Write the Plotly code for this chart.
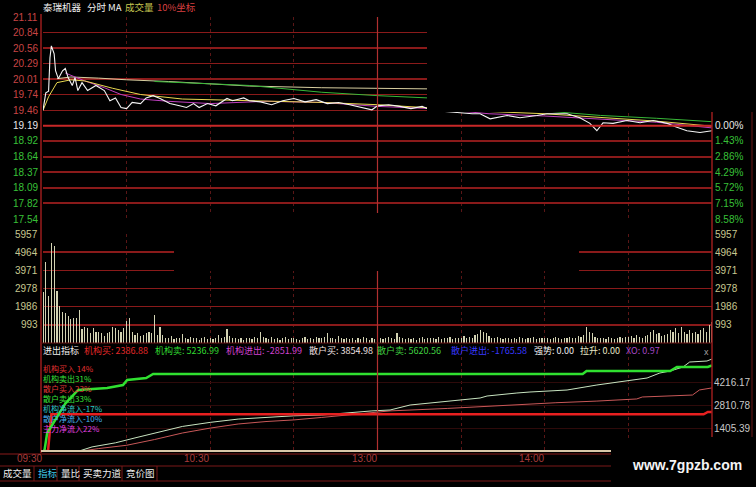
import plotly.graph_objects as go

W, H = 756, 487
CJK = "Noto Sans CJK SC, Noto Sans, sans-serif"
NUM = "Liberation Sans, Arial, sans-serif"

# ---------------- data ----------------
price_ticks = [21.11, 20.84, 20.56, 20.29, 20.01, 19.74, 19.46, 19.19,
               18.92, 18.64, 18.37, 18.09, 17.82, 17.54]
pct_ticks = ["0.00%", "1.43%", "2.86%", "4.29%", "5.72%", "7.15%", "8.58%"]
vol_ticks = [5957, 4964, 3971, 2978, 1986, 993]
ind_ticks = [4216.17, 2810.78, 1405.39]
time_ticks = [0, 60, 120, 180]
time_labels = ["09:30", "10:30", "13:00", "14:00"]

price_t = [0, 1, 2, 2.5, 3, 4, 4.5, 5.5, 7, 8, 9, 10.5, 11.5, 12.5, 14, 16, 19, 22, 24, 26,
           28, 30, 32, 35, 37, 39.5, 42, 45.5, 49, 51.5, 54, 56, 59, 62, 66, 68, 72, 74, 78, 82,
           86, 90, 94, 98, 102, 106, 110, 114, 118, 120, 124, 128, 132, 136, 138, 142, 146, 150,
           154, 156.8, 160.4, 166.5, 171.1, 177.2, 180.8, 188, 192.6, 196.2, 198.7, 200.9, 204.5,
           209.5, 214.2, 218.9, 223.9, 227.4, 231, 235.7, 240]
price = [19.46, 19.77, 19.80, 20.39, 20.60, 20.46, 20.16, 20.02, 20.16, 20.20, 20.04, 19.90,
         20.04, 19.81, 19.95, 19.81, 19.90, 19.81, 19.63, 19.68, 19.51, 19.49, 19.60, 19.58,
         19.68, 19.72, 19.67, 19.58, 19.54, 19.51, 19.58, 19.51, 19.58, 19.54, 19.67, 19.63,
         19.68, 19.63, 19.61, 19.56, 19.63, 19.67, 19.61, 19.65, 19.58, 19.60, 19.56, 19.51,
         19.47, 19.54, 19.56, 19.53, 19.49, 19.53, 19.49, 19.45, 19.43, 19.42, 19.40, 19.40,
         19.31, 19.37, 19.33, 19.37, 19.40, 19.40, 19.33, 19.23, 19.10, 19.24, 19.23, 19.28,
         19.24, 19.28, 19.23, 19.16, 19.10, 19.07, 19.10]

avg_t = [0, 2, 5, 10, 15, 25, 35, 50, 75, 100, 120, 140, 160, 180, 200, 220, 240]
avg_price = [19.46, 19.70, 19.95, 20.00, 19.98, 19.85, 19.74, 19.66, 19.63, 19.60, 19.56,
             19.50, 19.44, 19.40, 19.33, 19.27, 19.18]

ma_mag_t = [8, 15, 22, 28, 35, 45, 60, 80, 100, 120, 140, 160, 180, 200, 220, 240]
ma_mag = [20.12, 19.98, 19.86, 19.74, 19.66, 19.62, 19.58, 19.62, 19.60, 19.53, 19.49,
          19.40, 19.36, 19.30, 19.25, 19.15]
ma_grn_t = [40, 60, 74, 100, 120, 138, 160, 180, 200, 220, 240]
ma_grn = [19.97, 19.93, 19.90, 19.78, 19.72, 19.68, 19.55, 19.45, 19.37, 19.32, 19.26]
ma_beige_t = [5, 10, 20, 30, 45, 60, 74, 100, 138, 170, 200, 240]
ma_beige = [20.02, 20.05, 20.03, 20.00, 19.97, 19.93, 19.89, 19.86, 19.84, 19.80, 19.77, 19.74]

volume = [2785, 4420, 2570, 5460, 5300, 2840, 2020, 1690, 1640, 1470,
          1310, 1360, 1360, 1800, 760, 870, 820, 550, 820, 600,
          600, 550, 380, 550, 600, 870, 820, 710, 600, 820,
          1200, 1360, 600, 440, 550, 380, 440, 550, 600, 550,
          1530, 440, 870, 440, 300, 250, 380, 220, 300, 260,
          490, 280, 200, 330, 250, 300, 180, 260, 320, 240,
          280, 210, 300, 440, 260, 330, 760, 380, 250, 300,
          220, 280, 190, 260, 300, 240, 330, 280, 600, 350,
          260, 200, 310, 240, 280, 180, 250, 330, 220, 270,
          300, 240, 190, 280, 350, 220, 260, 200, 310, 250,
          280, 330, 550, 260, 300, 220, 380, 250, 200, 280,
          240, 300, 190, 260, 220, 330, 250, 180, 270, 230,
          270, 300, 220, 260, 330, 280, 240, 550, 320, 260,
          200, 280, 240, 300, 190, 260, 330, 220, 280, 250,
          300, 240, 350, 210, 280, 250, 320, 230, 290, 260,
          300, 380, 260, 330, 280, 420, 500, 710, 600, 550,
          380, 300, 250, 330, 280, 220, 300, 260, 200, 280,
          240, 310, 260, 200, 290, 250, 330, 220, 270, 300,
          250, 300, 220, 280, 330, 260, 240, 300, 280, 350,
          300, 260, 380, 330, 420, 870, 600, 550, 330, 280,
          260, 300, 240, 330, 280, 220, 300, 350, 260, 310,
          330, 380, 300, 420, 350, 300, 400, 450, 600, 710,
          480, 550, 380, 450, 500, 710, 600, 820, 520, 870,
          600, 480, 710, 550, 600, 500, 710, 820, 600, 980, 1150]
minutes = list(range(len(volume)))

jg_buy_t = [0, 1.8, 3.0, 237.0, 238.5, 240]
jg_buy = [0, 0, 2240, 2240, 2387, 2387]
jg_sell_t = [0, 0.5, 1.5, 4, 8, 12.6, 23, 28.7, 30.2, 37, 39.5, 193.6, 195, 225, 227.4, 238.5, 240]
jg_sell = [0, 0, 1100, 1800, 2900, 3727, 3850, 4030, 4338, 4460, 4705, 4705, 4888, 4888,
           5132, 5132, 5237]
sh_buy_t = [0, 14, 20, 30, 40, 50, 60, 70, 80, 90, 100, 110, 120, 124.5, 145, 161, 184,
            198.7, 213, 215, 233, 235.5, 240]
sh_buy = [0, 0, 150, 350, 700, 1100, 1400, 1650, 1800, 1900, 2050, 2200, 2350, 2450, 2600,
          2750, 2950, 3050, 3180, 3300, 3420, 3730, 3855]
sh_sell_t = [0, 13, 17.6, 26, 33, 40, 50, 60, 70, 80, 90, 100, 110, 118, 124.5, 131.7, 156.8,
             159.3, 170, 174.7, 188, 198.7, 216.7, 221.3, 225, 229.6, 232, 238.2, 240]
sh_sell = [0, 0, 250, 500, 800, 1100, 1500, 1750, 1950, 2050, 2150, 2200, 2350, 2450, 2505,
           2810, 3238, 3360, 3544, 3605, 3727, 4033, 4460, 4766, 4888, 5132, 5438, 5499, 5621]

header_items = [("进出指标", 42, "#f0f0f0"), ("机构买: 2386.88", 83, "#e02828"),
                ("机构卖: 5236.99", 154, "#30d830"), ("机构进出: -2851.99", 225, "#d040d0"),
                ("散户买: 3854.98", 308, "#f0e0e0"), ("散户卖: 5620.56", 376, "#40d040"),
                ("散户进出: -1765.58", 450, "#3838ff"), ("强势: 0.00", 533, "#f0f0f0"),
                ("拉升: 0.00", 579, "#e8e8c8"), ("XO: 0.97", 625, "#a848c8")]
legend_items = [("机构买入 14%", "#e03030"), ("机构卖出31%", "#38e038"),
                ("散户买入23%", "#e03838"), ("散户卖出33%", "#38e038"),
                ("机构净流入-17%", "#30c8c8"), ("散户净流入-10%", "#48b0f0"),
                ("主力净流入22%", "#e040e0")]
title_items = [("泰瑞机器", 42, "#f0f0f0"), ("分时", 86, "#f0f0f0"), ("MA", 107, "#f0f0f0"),
               ("成交量", 124, "#c8c850"), ("10%坐标", 156, "#d84040")]
tab_items = [("成交量", 2, "#f0f0f0"), ("指标", 37, "#40c8e8"), ("量比", 60, "#f0f0f0"),
             ("买卖力道", 82, "#f0f0f0"), ("竞价图", 125, "#f0f0f0")]

# ---------------- figure ----------------
fig = go.Figure()
def line(x, y, color, width, axis):
    fig.add_trace(go.Scatter(x=x, y=y, mode="lines", yaxis=axis,
                             line=dict(color=color, width=width), hoverinfo="skip"))

line(ma_beige_t, ma_beige, "#d8cfa0", 1, "y")
line(ma_grn_t, ma_grn, "#38b838", 1, "y")
line(ma_mag_t, ma_mag, "#c040c0", 1, "y")
line(avg_t, avg_price, "#e8d850", 1, "y")
line(price_t, price, "#f4f4f4", 1.1, "y")

fig.add_trace(go.Bar(x=minutes, y=volume, width=0.42, yaxis="y2",
                     marker=dict(color="#d2d2b2", line=dict(width=0)), hoverinfo="skip"))

line(sh_buy_t, sh_buy, "#c85858", 1, "y3")
line(sh_sell_t, sh_sell, "#c8e4c0", 1, "y3")
line(jg_buy_t, jg_buy, "#e82020", 2.5, "y3")
line(jg_sell_t, jg_sell, "#30e030", 2.5, "y3")

def dom(top_px, bot_px):
    return [1 - bot_px / H, 1 - top_px / H]

grid_common = dict(showticklabels=False, zeroline=False, showline=False, ticks="")
fig.update_layout(
    width=W, height=H, margin=dict(l=0, r=0, t=0, b=0),
    paper_bgcolor="#000000", plot_bgcolor="#000000", showlegend=False, bargap=0,
    xaxis=dict(domain=[43 / W, 712 / W], range=[0, 240], tickvals=list(range(0, 241, 30)),
               showgrid=True, gridcolor="#5a1616", griddash="dot", gridwidth=1,
               anchor="y3", **grid_common),
    yaxis=dict(domain=dom(17, 219), range=[17.54, 21.11], tickvals=price_ticks,
               showgrid=True, gridcolor="#8a1a1a", gridwidth=1.5, **grid_common),
    yaxis2=dict(domain=dom(234, 343), range=[0, 5957], tickvals=vol_ticks,
                showgrid=True, gridcolor="#8a1a1a", gridwidth=1.5, **grid_common),
    yaxis3=dict(domain=dom(345, 451), range=[0, 6477], tickvals=ind_ticks,
                showgrid=True, gridcolor="#2e0a0a", gridwidth=1, **grid_common),
)

shapes = []
def pline(x0, y0, x1, y1, color, width=1):
    shapes.append(dict(type="line", xref="paper", yref="paper", x0=x0 / W, x1=x1 / W,
                       y0=1 - y0 / H, y1=1 - y1 / H, line=dict(color=color, width=width)))
def prect(x0, y0, x1, y1):
    shapes.append(dict(type="rect", xref="paper", yref="paper", x0=x0 / W, x1=x1 / W,
                       y0=1 - y1 / H, y1=1 - y0 / H, fillcolor="#000000",
                       line=dict(width=0), layer="above"))

shapes.append(dict(type="line", xref="x", yref="y", x0=0, x1=240, y0=19.19, y1=19.19,
                   line=dict(color="#c82828", width=2)))
shapes.append(dict(type="line", xref="x", yref="paper", x0=120, x1=120,
                   y0=1 - 451 / H, y1=1 - 17 / H, line=dict(color="#b03030", width=1.2)))
pline(41, 14, 41, 453, "#9a1c1c", 1.5)
pline(712, 14, 712, 437, "#9a1c1c", 1.5)
pline(752, 112, 752, 437, "#5a1414", 1.2)
pline(41, 343, 712, 343, "#6a1414", 1)
pline(41, 451, 611, 451, "#d8c8a8", 2)
pline(0, 454, 611, 454, "#8a1a1a", 1)
pline(0, 466, 611, 466, "#7a1818", 1)
pline(0, 481, 611, 481, "#7a1818", 1)
for sx in [34, 57, 79, 122, 157]:
    pline(sx, 466, sx, 481, "#7a1818", 1)
prect(427, 0, 756, 112)
prect(174, 213, 579, 271)
prect(612, 438, 756, 487)
fig.update_layout(shapes=shapes)

def ann(text, x, y, color, size=9, xanchor="left", family=CJK, xref="paper", yref="paper"):
    fig.add_annotation(text=text, x=x / W if xref == "paper" else x,
                       y=1 - y / H if yref == "paper" else y, xref=xref, yref=yref,
                       xanchor=xanchor, yanchor="middle", showarrow=False, borderpad=0,
                       font=dict(color=color, size=size, family=family))

for t, x, c in title_items:
    ann(t, x, 7, c, 9.5)
for v in price_ticks:
    c = "#c84444" if v > 19.19 else ("#e8e8e8" if v == 19.19 else "#38c038")
    ann(f"{v:.2f}", 39, v, c, 10, "right", NUM, yref="y")
for i, lab in enumerate(pct_ticks):
    v = price_ticks[7 + i]
    ann(lab, 714, v, "#e8e8e8" if i == 0 else "#38c038", 10, "left", NUM, yref="y")
for v in vol_ticks:
    ann(str(v), 39, v, "#c8c890", 10, "right", NUM, yref="y2")
    ann(str(v), 714, v, "#c8c890", 10, "left", NUM, yref="y2")
for v in ind_ticks:
    ann(f"{v:.2f}", 713, v, "#c8c8c8", 10, "left", NUM, yref="y3")
for t, x, c in header_items:
    ann(t, x, 350, c, 9)
ann("x", 706, 352, "#a0a0a0", 9, "center", NUM)
for i, (t, c) in enumerate(legend_items):
    ann(t, 42, 368 + 10 * i, c, 8)
for v, lab in zip(time_ticks, time_labels):
    fig.add_annotation(text=lab, x=v, y=1 - 458 / H, xref="x", yref="paper", xanchor="right",
                       yanchor="middle", showarrow=False, borderpad=0,
                       font=dict(color="#a83c3c", size=10, family=NUM))
for t, x, c in tab_items:
    ann(t, x, 473, c, 9.5)
ann("<b>www.7gpzb.com</b>", 687, 465, "#f4f4f4", 14, "center",
    "Liberation Sans, Arial, sans-serif")

fig.write_html("out.html", config={"displayModeBar": False, "staticPlot": True},
               post_script="document.body.style.margin='0';"
                           "document.body.style.background='#000';"
                           "document.body.style.overflow='hidden';")
